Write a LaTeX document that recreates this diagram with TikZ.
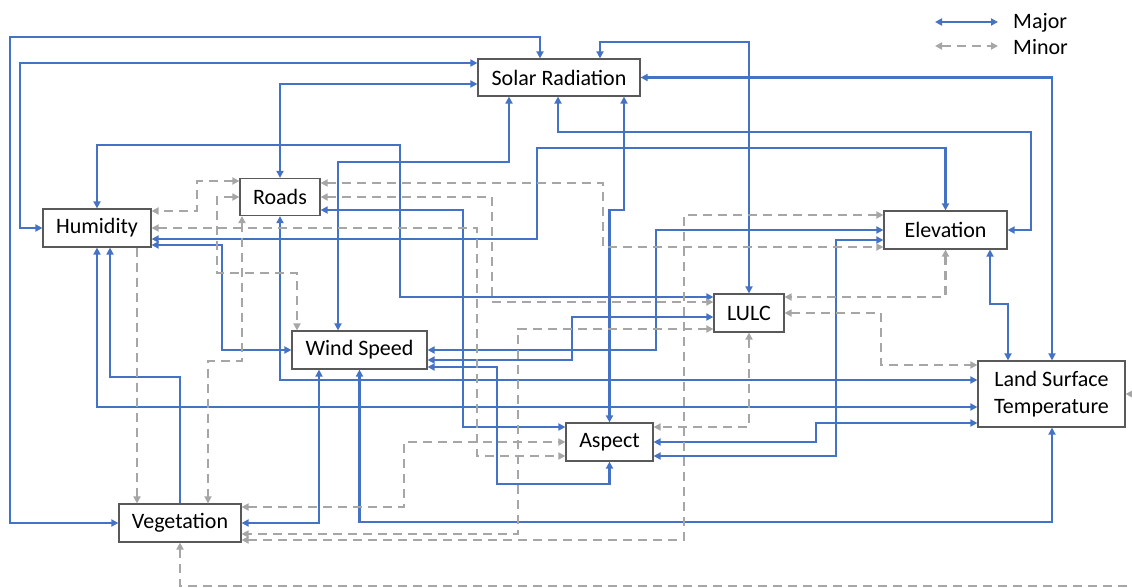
\documentclass[tikz,border=0pt]{standalone}
\usepackage{fontspec}
\setmainfont{Carlito}
\usetikzlibrary{arrows.meta}
\definecolor{majorblue}{HTML}{4472C4}
\definecolor{minorgray}{HTML}{A6A6A6}
\definecolor{boxgray}{HTML}{595959}

\begin{document}
\begin{tikzpicture}[x=1pt, y=-1pt,
    >={Triangle[length=7pt,width=7pt]},
    box/.style={draw=boxgray, line width=1.2pt, fill=white, inner sep=0pt,
                align=center, font=\fontsize{22}{27}\selectfont},
    major/.style={color=majorblue, line width=2.1pt, <->},
    minor/.style={color=minorgray, line width=2.6pt, dash pattern=on 9pt off 6pt, <->},
    legend/.style={anchor=west, inner sep=0pt, font=\fontsize{22}{27}\selectfont}]
  \useasboundingbox (0,0) rectangle (1132,588);

  \node[box, minimum width=162pt, minimum height=37pt] (sol)   at (559,77.5)  {Solar Radiation};
  \node[box, minimum width=80pt,  minimum height=37pt] (roads) at (280,197)   {Roads};
  \node[box, minimum width=108pt, minimum height=38pt] (hum)   at (97,228)    {Humidity};
  \node[box, minimum width=123pt, minimum height=38pt] (elev)  at (945.5,230) {Elevation};
  \node[box, minimum width=70pt,  minimum height=38pt] (lulc)  at (749,313)   {LULC};
  \node[box, minimum width=135pt, minimum height=38pt] (wind)  at (359.5,350) {Wind Speed};
  \node[box, minimum width=147pt, minimum height=66pt] (lst)   at (1051.5,394) {Land Surface\\Temperature};
  \node[box, minimum width=87pt,  minimum height=38pt] (asp)   at (609.5,442) {Aspect};
  \node[box, minimum width=122pt, minimum height=38pt] (veg)   at (180,523)   {Vegetation};

  \node[legend] (majlbl) at (1013,23) {Major};
  \node[legend] (minlbl) at (1013,47) {Minor};
  \coordinate (majtail) at (935,22);
  \coordinate (mintail) at (935,46);
  \draw[major] (majtail) -- ([xshift=-15pt]majlbl.west |- majtail);
  \draw[minor] (mintail) -- ([xshift=-15pt]minlbl.west |- mintail);

  % major links
  \draw[major] (veg.west) -| (10,37) -| (540,0 |- sol.north);
  \draw[major] (hum.west) -| (20,63) -- (sol.west |- 0,63);
  \draw[major] (roads.north) |- (sol.west |- 0,84);
  \draw[major] (hum.north) |- (400,145) |- (lulc.west |- 0,297);
  \draw[major] (roads.south) |- (lst.west |- 0,380);
  \draw[major] (roads.east |- 0,210) -| (463,427) -- (asp.west |- 0,427);
  \draw[major] (sol.south -| 509,0) |- (338,162) -- (338,0 |- wind.north);
  \draw[major] (sol.south -| 558,0) |- (1031,132) |- (elev.east);
  \draw[major] (sol.east) -| (lst.north -| 1052,0);
  \draw[major] (sol.north -| 600,0) |- (749,42) -- (lulc.north);
  \draw[major] (sol.south -| 624,0) -- (624,210) -| (asp.north);
  \draw[major] (hum.east |- 0,239) -| (537,148) -| (elev.north);
  \draw[major] (hum.east |- 0,245) -| (222,350) -- (wind.west);
  \draw[major] (hum.south) |- (lst.west |- 0,407);
  \draw[major, ->] (veg.north) |- (110,377) -- (110,0 |- hum.south);
  \draw[major] (wind.south -| 319,0) |- (veg.east);
  \draw[major] (wind.south) |- (1052,522) -- (lst.south -| 1052,0);
  \draw[major] (wind.east) -| (656,230) -- (elev.west);
  \draw[major] (wind.east |- 0,360) -| (572,317) -- (lulc.west |- 0,317);
  \draw[major] (wind.east |- 0,367) -| (497,484) -| (asp.south);
  \draw[major] (elev.west |- 0,240) -| (836,456) -- (asp.east |- 0,456);
  \draw[major] (asp.east) -| (816,423) -- (lst.west |- 0,423);
  \draw[major] (elev.south -| 990,0) |- (1008,304) -- (1008,0 |- lst.north);

  % minor links
  \draw[minor] (roads.west |- 0,181) -| (197,211) -- (hum.east |- 0,211);
  \draw[minor] (roads.west) -| (217,273) -| (wind.north -| 297,0);
  \draw[minor] (hum.east) -| (477,456) -- (asp.west |- 0,456);
  \draw[minor, ->] (hum.south -| 137,0) -- (137,0 |- veg.north);
  \draw[minor] (roads.south -| 242,0) |- (208,361) -- (208,0 |- veg.north);
  \draw[minor] (roads.east |- 0,183) -| (603,247) -- (elev.west |- 0,247);
  \draw[minor] (roads.east) -| (492,302) -- (lulc.west |- 0,302);
  \draw[minor] (lulc.west |- 0,329) -| (518,534) -- (veg.east |- 0,534);
  \draw[minor] (elev.west |- 0,215) -| (684,540) -- (veg.east |- 0,540);
  \draw[minor] (lulc.south) |- (asp.east |- 0,427);
  \draw[minor] (veg.east |- 0,507) -| (404,442) -- (asp.west);
  \draw[minor] (veg.south) |- (1145,586) |- (lst.east);
  \draw[minor] (elev.south) |- (lulc.east |- 0,297);
  \draw[minor] (lulc.east) -| (881,365) -- (lst.west |- 0,365);
\end{tikzpicture}
\end{document}
